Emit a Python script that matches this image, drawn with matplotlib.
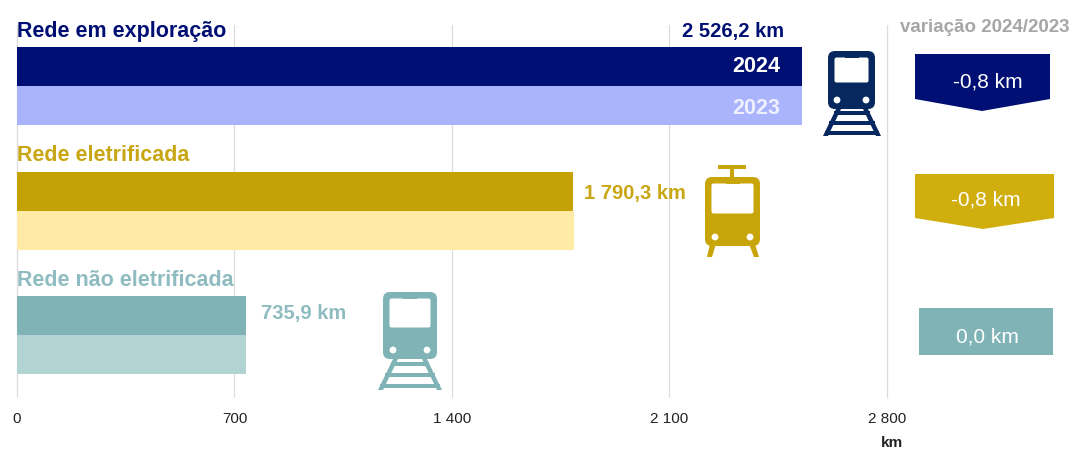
import matplotlib
matplotlib.use('Agg')
import matplotlib.pyplot as plt
from matplotlib.patches import FancyBboxPatch, Polygon, Circle, Rectangle

plt.rcParams['font.family'] = ['Liberation Sans', 'DejaVu Sans']

categories = ['Rede em exploração', 'Rede eletrificada', 'Rede não eletrificada']
values_2024 = [2526.2, 1790.3, 735.9]
values_2023 = [2527.0, 1791.1, 735.9]
value_labels = ['2 526,2 km', '1 790,3 km', '735,9 km']
variations = ['-0,8 km', '-0,8 km', '0,0 km']
ticks = [0, 700, 1400, 2100, 2800]
tick_labels = ['0', '700', '1 400', '2 100', '2 800']

colors_2024 = ['#000f73', '#c4a106', '#7fb3b6']
colors_2023 = ['#aab4fc', '#ffeaa6', '#b1d4d3']
label_colors = ['#000f73', '#c9a714', '#8fbcc0']
icon_colors = ['#07285f', '#c9a50c', '#7fb3b6']
box_colors = ['#000f73', '#cfae0e', '#7fb3b6']

W, H = 1074, 452
fig = plt.figure(figsize=(W/100, H/100), dpi=100)

# main axes, y in pixels of the picture
ax = fig.add_axes([17/W, 1-398/H, 870/W, 372/H])
ax.set_xlim(0, 2800)
ax.set_ylim(398, 26)
centers = [86.5, 211.5, 335.5]
for i in range(3):
    ax.barh(centers[i]-19.5, values_2024[i], height=39, color=colors_2024[i], zorder=3)
    ax.barh(centers[i]+19.5, values_2023[i], height=39, color=colors_2023[i], zorder=3)
ax.set_xticks(ticks)
ax.set_xticklabels(tick_labels, fontsize=11, color='#222222')
ax.set_yticks([])
ax.tick_params(axis='x', length=0, pad=10)
ax.grid(axis='x', color='#dcdcdc', lw=0.9, clip_on=False)
ax.set_axisbelow(True)
for s in ax.spines.values():
    s.set_visible(False)

# overlay for texts and icons, in picture pixels
ov = fig.add_axes([0, 0, 1, 1])
ov.set_xlim(0, W)
ov.set_ylim(H, 0)
ov.axis('off')
ov.patch.set_alpha(0)


def txt(x, y, s, color, size, bold=False, ha='center'):
    ov.text(x, y, s, color=color, fontsize=size, ha=ha, va='center',
            fontweight='bold' if bold else 'normal')


def body(x0, y0, x1, y1, wy, color, lamp_dx):
    ov.add_patch(FancyBboxPatch((x0+5, y0+5), x1-x0-10, y1-y0-10, boxstyle='round,pad=5,rounding_size=7',
                                fc=color, ec='none'))
    ov.add_patch(FancyBboxPatch((x0+8, y0+8), x1-x0-16, wy-y0-9, boxstyle='round,pad=1.5,rounding_size=2',
                                fc='white', ec='none'))
    ov.add_patch(Rectangle(((x0+x1)/2-7, y0+5), 14, 2, fc=color, ec='none'))
    ov.add_patch(Circle((x0+lamp_dx, y1-9), 3.4, fc='white', ec='none'))
    ov.add_patch(Circle((x1-lamp_dx, y1-9), 3.4, fc='white', ec='none'))


def track(cx, y0, half_top, half_bot, h, color):
    ov.add_patch(Polygon([(cx-half_top, y0), (cx-half_top+5, y0), (cx-half_bot+5, y0+h), (cx-half_bot, y0+h)],
                         fc=color, ec='none'))
    ov.add_patch(Polygon([(cx+half_top, y0), (cx+half_top-5, y0), (cx+half_bot-5, y0+h), (cx+half_bot, y0+h)],
                         fc=color, ec='none'))
    for f in [0.2, 0.55, 0.88]:
        hw = half_top + (half_bot-half_top)*f
        ov.add_patch(Rectangle((cx-hw, y0+h*f-2), 2*hw, 4, fc=color, ec='none'))


# train icons
track(852, 108, 15, 29, 29, icon_colors[0])
body(828, 52, 875, 110, 83, icon_colors[0], 9)
track(410, 358, 16, 32, 33, icon_colors[2])
body(383, 293, 437, 360, 328, icon_colors[2], 10)

# tram icon
c = icon_colors[1]
ov.add_patch(Rectangle((718, 166), 28, 4, fc=c, ec='none'))
ov.add_patch(Rectangle((730, 168), 4, 11, fc=c, ec='none'))
ov.add_patch(Polygon([(710, 245), (716, 245), (712, 258), (707, 258)], fc=c, ec='none'))
ov.add_patch(Polygon([(749, 245), (755, 245), (759, 258), (754, 258)], fc=c, ec='none'))
body(705, 178, 760, 247, 214, c, 10)

# titles and value labels
title_y = [31, 156, 281]
label_pos = [(733, 32), (635, 194), (304, 314)]
for i in range(3):
    txt(17, title_y[i], categories[i], label_colors[i], 15.5, True, 'left')
    txt(label_pos[i][0], label_pos[i][1], value_labels[i], label_colors[i], 14.5, True)

txt(780, 67, '2024', 'white', 15.5, True, 'right')
txt(780, 109, '2023', '#eef0ff', 15.5, True, 'right')
txt(985, 27, 'variação 2024/2023', '#a6a6a6', 13.5, True)
txt(892, 443, 'km', '#222222', 11, True)

# variation boxes
ov.add_patch(Polygon([(915, 55), (1050, 55), (1050, 100), (982, 112), (915, 100)], fc=box_colors[0], ec='none'))
ov.add_patch(Polygon([(915, 175), (1054, 175), (1054, 219), (983, 230), (915, 219)], fc=box_colors[1], ec='none'))
ov.add_patch(Rectangle((919, 309), 134, 47, fc=box_colors[2], ec='none'))
var_pos = [(988, 82), (986, 200), (987, 337)]
for i in range(3):
    txt(var_pos[i][0], var_pos[i][1], variations[i], 'white', 15)

fig.savefig('out.png', dpi=100)
